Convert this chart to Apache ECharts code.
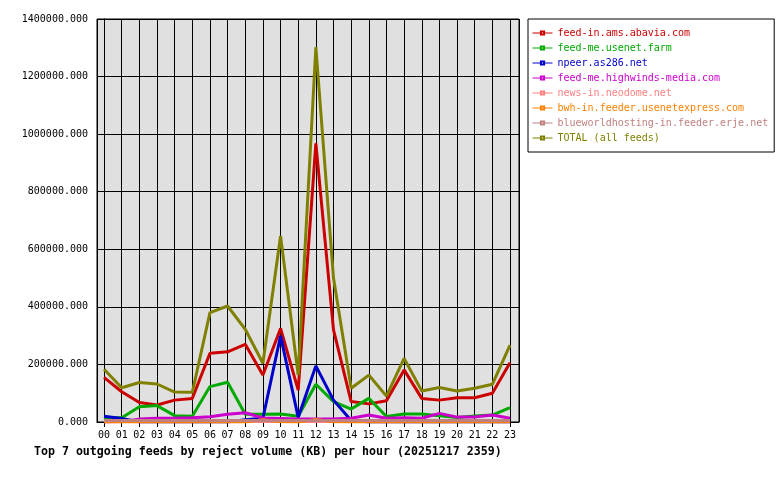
<!DOCTYPE html>
<html>
<head>
<meta charset="utf-8">
<script src="https://cdn.jsdelivr.net/npm/echarts@6/dist/echarts.min.js"></script>
<style>
  html, body { margin: 0; padding: 0; background: #fff; }
  #chart { width: 780px; height: 480px; }
</style>
</head>
<body>
<div id="chart"></div>
<script>
const hours = ['00','01','02','03','04','05','06','07','08','09','10','11',
               '12','13','14','15','16','17','18','19','20','21','22','23']

const feedNames = [
  'feed-in.ams.abavia.com',
  'feed-me.usenet.farm',
  'npeer.as286.net',
  'feed-me.highwinds-media.com',
  'news-in.neodome.net',
  'bwh-in.feeder.usenetexpress.com',
  'blueworldhosting-in.feeder.erje.net',
  'TOTAL (all feeds)'
]
const feedColors = ['#cc0000', '#00aa00', '#0000cc', '#cc00cc', '#ff8080', '#ff8000', '#c08080', '#808000']

const abavia = [155000, 105000, 68000, 59000, 76000, 82000, 239000, 244000, 270000, 163000, 325000, 111000,
                968000, 320000, 71000, 63000, 74000, 181000, 82000, 76000, 84000, 84000, 100000, 206000]
const usenetFarm = [16000, 15000, 53000, 57000, 22000, 20000, 123000, 138000, 27000, 27000, 28000, 20000,
                    131000, 71000, 45000, 82000, 19000, 28000, 28000, 22000, 16000, 21000, 24000, 50000]
const as286 = [20000, 12000, 0, 0, 0, 0, 0, 0, 8000, 13000, 299000, 16000,
               195000, 76000, 5000, 0, 0, 0, 0, 0, 0, 0, 0, 0]
const highwinds = [0, 2000, 10000, 13000, 13000, 15000, 18000, 27000, 32000, 14000, 12000, 10000,
                   10000, 10000, 13000, 24000, 13000, 15000, 13000, 30000, 17000, 17000, 24000, 13000]
const neodome = [2000, 2000, 2000, 2000, 2000, 2000, 2000, 2000, 2000, 2000, 2000, 2000,
                 2000, 2000, 2000, 2000, 2000, 2000, 2000, 2000, 2000, 2000, 2000, 2000]
const usenetExpress = [0, 0, 0, 0, 0, 0, 0, 0, 0, 8000, 1000, 0,
                       9000, 1000, 0, 0, 0, 0, 0, 0, 0, 0, 0, 0]
const erje = [5000, 5000, 5000, 5000, 5000, 5000, 5000, 5000, 5000, 5000, 5000, 5000,
              5000, 5000, 5000, 5000, 5000, 5000, 5000, 5000, 5000, 5000, 5000, 5000]
const total = [183000, 119000, 137000, 132000, 104000, 103000, 380000, 403000, 322000, 204000, 646000, 163000,
               1302000, 500000, 117000, 163000, 90000, 221000, 108000, 120000, 108000, 117000, 131000, 267000]

const feedValues = [abavia, usenetFarm, as286, highwinds, neodome, usenetExpress, erje, total]

const FONT = '"DejaVu Sans Mono", monospace'

const chart = echarts.init(document.getElementById('chart'), null, { renderer: 'canvas' })

const option = {
  animation: false,
  backgroundColor: '#fff',
  title: {
    text: 'Top 7 outgoing feeds by reject volume (KB) per hour (20251217 2359)',
    left: 34,
    top: 446,
    padding: 0,
    textStyle: { fontFamily: FONT, fontSize: 11.6, fontWeight: 'bold', color: '#000' }
  },
  legend: {
    orient: 'vertical',
    left: 528,
    top: 19,
    selectedMode: false,
    backgroundColor: '#fff',
    borderColor: '#000',
    borderWidth: 1,
    padding: [8, 6, 8, 4],
    itemWidth: 20,
    itemHeight: 4,
    itemGap: 3,
    lineStyle: { width: 1 },
    textStyle: { fontFamily: FONT, fontSize: 10, lineHeight: 12 },
    data: feedNames.map((n, i) => ({ name: n, textStyle: { color: feedColors[i] } }))
  },
  grid: {
    left: 97,
    top: 19,
    right: 261,
    bottom: 58,
    show: true,
    backgroundColor: '#e0e0e0',
    borderColor: '#000',
    borderWidth: 1
  },
  xAxis: {
    type: 'value',
    min: -0.4,
    max: 23.51,
    splitNumber: 24,
    axisLine: { lineStyle: { color: '#000', width: 1 } },
    axisTick: { length: 5, lineStyle: { color: '#000' } },
    splitLine: { show: true, lineStyle: { color: '#000', width: 1 } },
    axisLabel: {
      showMinLabel: false,
      showMaxLabel: false,
      margin: 8,
      fontFamily: FONT,
      fontSize: 10,
      color: '#000',
      formatter: v => (Number.isInteger(v) ? hours[v] : '')
    }
  },
  yAxis: {
    type: 'value',
    min: 0,
    max: 1400000,
    interval: 200000,
    axisLine: { show: true, lineStyle: { color: '#000', width: 1 } },
    axisTick: { show: true, length: 6, lineStyle: { color: '#000' } },
    splitLine: { show: true, lineStyle: { color: '#000', width: 1 } },
    axisLabel: {
      margin: 9,
      fontFamily: FONT,
      fontSize: 10,
      color: '#000',
      formatter: v => v.toFixed(3)
    }
  },
  series: feedNames.map((n, i) => ({
    name: n,
    type: 'line',
    color: feedColors[i],
    symbol: 'emptyRect',
    symbolSize: 4,
    showSymbol: false,
    lineStyle: { width: 3, color: feedColors[i] },
    data: feedValues[i].map((v, h) => [h, v])
  }))
}

chart.setOption(option)
</script>
</body>
</html>
